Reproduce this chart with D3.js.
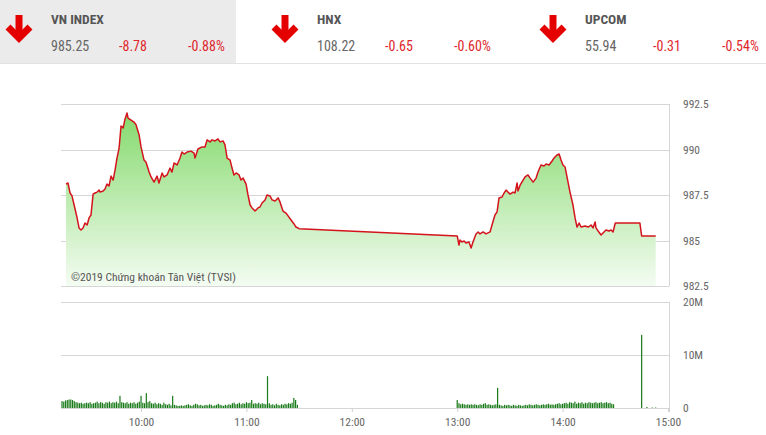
<!DOCTYPE html>
<html><head><meta charset="utf-8">
<script src="https://cdn.jsdelivr.net/npm/d3@7/dist/d3.min.js"></script>
<style>
html,body{margin:0;padding:0;background:#fff;}
svg{display:block;}
.nar{font-family:"Roboto Condensed","Liberation Sans Narrow","DejaVu Sans Condensed",Roboto,sans-serif;}
</style></head>
<body><svg id="c" width="766" height="435"></svg>
<script>
// ---------- DATA ----------
const indexNames  = ["VN INDEX", "HNX", "UPCOM"];
const indexValues = ["985.25", "108.22", "55.94"];
const indexChange = ["-8.78", "-0.65", "-0.31"];
const indexPct    = ["-0.88%", "-0.60%", "-0.54%"];

const priceTicks  = [982.5, 985, 987.5, 990, 992.5];
const volumeTicks = [0, 10, 20];           // millions
const timeTicks   = ["10:00", "11:00", "12:00", "13:00", "14:00", "15:00"];

const priceTimes = [
"09:17:18","09:18:24","09:19:36","09:20:42","09:21:54","09:23:36","09:24:42","09:25:48","09:27:00","09:28:06",
"09:29:18","09:30:24","09:31:30","09:32:42","09:33:48","09:35:00","09:36:06","09:36:42","09:38:24","09:39:30",
"09:40:36","09:41:48","09:42:54","09:44:06","09:45:12","09:46:18","09:47:30","09:48:36","09:49:48","09:50:54",
"09:52:00","09:52:36","09:54:18","09:56:00","09:57:12","09:58:54","10:00:00","10:01:42","10:02:48","10:04:36",
"10:05:42","10:07:24","10:09:06","10:10:12","10:12:00","10:13:06","10:14:48","10:16:30","10:17:36","10:18:48",
"10:20:30","10:22:12","10:23:18","10:24:30","10:26:12","10:28:30","10:30:12","10:30:42","10:32:24","10:34:42",
"10:36:24","10:37:36","10:39:18","10:40:24","10:42:06","10:43:48","10:45:00","10:46:42","10:47:48","10:49:00",
"10:50:42","10:51:48","10:52:54","10:54:06","10:55:48","10:56:54","10:58:06","10:59:48","11:00:54","11:02:06",
"11:03:12","11:04:54","11:06:36","11:07:42","11:08:54","11:10:36","11:11:42","11:13:24","11:14:36","11:16:18",
"11:18:00","11:19:06","11:20:48","11:22:30","11:23:42","11:25:24","11:27:06","11:28:12","11:30:00",
"13:00:00","13:01:00","13:01:36","13:02:42","13:03:54","13:05:00","13:06:42","13:07:54","13:09:00","13:10:42",
"13:11:54","13:13:00","13:14:42","13:16:24","13:18:42","13:19:48","13:21:30","13:22:42","13:23:48","13:25:30",
"13:26:42","13:27:48","13:28:54","13:30:06","13:31:48","13:32:54","13:34:06","13:34:36","13:35:48","13:37:30",
"13:38:36","13:40:18","13:41:30","13:43:12","13:44:54","13:46:00","13:47:42","13:49:24","13:50:36","13:52:18",
"13:54:00","13:55:06","13:56:48","13:58:00","13:59:06","14:00:12","14:01:24","14:02:30","14:04:12","14:05:54",
"14:07:06","14:08:12","14:09:24","14:10:30","14:12:48","14:14:30","14:16:12","14:17:18","14:18:30","14:19:00",
"14:20:12","14:21:54","14:23:00","14:24:42","14:26:24","14:27:36","14:28:42","14:30:00","14:44:00","14:45:00",
"14:53:00"
];
const priceValues = [
988.10,988.16,987.61,987.45,986.95,986.24,985.69,985.58,985.69,985.96,
985.85,986.24,986.40,987.55,987.61,987.66,987.77,987.66,987.72,987.83,
988.10,988.00,988.54,988.32,988.87,989.53,990.08,991.29,991.18,991.68,
992.01,991.73,991.62,991.51,991.35,990.80,990.14,989.42,989.31,988.76,
988.49,988.21,988.54,988.16,988.71,988.49,988.60,988.98,988.76,989.26,
989.15,989.53,989.86,989.75,989.86,989.91,989.80,989.53,990.03,990.14,
990.14,990.53,990.42,990.53,990.47,990.58,990.42,990.47,990.25,989.53,
989.42,988.98,988.60,988.71,988.60,988.32,988.43,988.10,987.50,986.95,
986.79,986.62,986.79,986.84,987.06,987.23,987.50,987.45,987.23,987.17,
987.34,987.12,986.62,986.51,986.35,986.13,985.91,985.74,985.65,
985.25,984.75,985.03,984.92,984.97,984.86,984.92,984.59,984.92,985.36,
985.47,985.36,985.47,985.36,985.47,985.85,986.40,986.57,987.34,987.39,
987.61,987.77,987.66,987.55,987.66,987.61,988.16,987.72,988.04,988.32,
988.49,988.60,988.43,988.21,988.43,988.76,989.15,989.09,989.20,989.15,
989.37,989.53,989.70,989.75,989.42,989.15,989.04,988.49,987.66,986.95,
986.24,985.74,985.96,985.74,985.80,985.74,985.85,985.69,986.02,985.69,
985.52,985.30,985.41,985.58,985.52,985.58,985.47,985.96,985.96,985.25,
985.25
];

// volume per minute (millions of shares)
const morningStart = "09:15";
const volMorning = [
1.3,1.2,1.4,1.5,1.6,1.6,1.5,1.3,1.1,1.0,
0.9,1.0,0.8,0.9,1.0,0.9,1.1,0.8,0.9,1.0,
1.2,0.9,1.1,1.0,0.8,1.1,1.0,1.2,0.9,1.1,
1.0,1.2,0.9,2.3,1.1,1.0,0.9,1.1,0.8,1.0,
0.9,1.1,0.8,1.0,1.2,2.3,1.0,0.9,2.8,1.1,
1.3,0.9,0.8,1.0,0.7,0.9,0.8,0.6,1.0,0.7,
0.6,0.8,0.5,2.3,0.6,0.5,0.4,0.4,0.5,0.4,
0.5,0.6,0.7,0.5,0.4,0.6,0.8,0.7,0.5,0.6,
0.4,0.5,0.6,0.5,0.7,0.6,0.4,0.5,0.6,0.8,
0.6,0.5,0.4,0.6,0.5,0.7,0.6,0.9,1.0,0.7,
0.8,1.0,0.7,0.9,0.8,1.1,0.9,1.0,1.5,0.8,
0.9,0.8,1.0,0.7,0.9,0.8,0.7,6.0,0.9,0.6,
0.7,0.5,0.8,0.6,0.5,0.7,0.6,0.8,0.7,0.9,
0.8,1.0,1.9,1.5,0.6
];
const afternoonStart = "13:00";
const volAfternoon = [
1.5,0.9,0.7,0.8,0.7,0.6,0.7,0.6,0.7,0.6,
0.7,0.6,0.5,0.7,0.6,0.8,0.9,0.6,0.7,0.6,
0.5,0.6,0.7,3.8,0.6,0.5,0.4,0.6,0.5,0.6,
0.5,0.4,0.6,0.5,0.4,0.6,0.5,0.4,0.5,0.6,
0.5,0.7,0.6,0.5,0.6,0.7,0.6,0.5,0.6,0.7,
0.6,0.7,0.8,0.6,0.7,0.6,0.7,0.8,0.9,0.7,
0.8,0.9,1.0,0.8,1.1,1.0,0.9,1.2,0.8,1.0,
0.9,1.1,0.8,1.0,0.9,1.1,1.0,0.9,1.0,1.1,
0.9,1.0,1.1,0.9,1.0,1.1,0.9,1.0,0.8,0.7
];
const closeTimes  = ["14:45", "14:48", "14:51", "14:53"];
const closeVolume = [13.8, 0.2, 0.1, 0.1];

// ---------- HELPERS ----------
const toMin = s => { const p = s.split(":").map(Number); return p[0]*60 + p[1] + (p[2]||0)/60; };
const price = priceTimes.map((t,i) => ({t: toMin(t), v: priceValues[i]}));
const vols = [];
volMorning.forEach((v,i) => vols.push({t: toMin(morningStart)+i, v}));
volAfternoon.forEach((v,i) => vols.push({t: toMin(afternoonStart)+i, v}));
closeTimes.forEach((t,i) => vols.push({t: toMin(t), v: closeVolume[i]}));

// ---------- LAYOUT ----------
const svg = d3.select("#c");
const L = 61, R = 669;
const x  = d3.scaleLinear().domain([toMin("09:15"), toMin("15:00")]).range([62, 668]);
const y  = d3.scaleLinear().domain([982.5, 992.5]).range([286, 104]);
const yv = d3.scaleLinear().domain([0, 20]).range([408, 302]);

const FONT = '"Roboto Condensed","Liberation Sans Narrow","DejaVu Sans Condensed",Roboto,sans-serif';

// header
svg.append("rect").attr("x",0).attr("y",0).attr("width",236).attr("height",63).attr("fill","#ebebeb");
svg.append("line").attr("x1",0).attr("x2",766).attr("y1",63.5).attr("y2",63.5).attr("stroke","#e2e2e2");
const hx = [0, 266, 534];
indexNames.forEach((n,i) => {
  const g = svg.append("g").attr("transform",`translate(${hx[i]},0)`);
  const cx = 19;
  g.append("path").attr("d",`M${cx},15 V38`).attr("stroke","#e50000").attr("stroke-width",7).attr("fill","none");
  g.append("path").attr("d",`M${cx-11},27 L${cx},38 L${cx+11},27`).attr("stroke","#e50000").attr("stroke-width",7)
    .attr("fill","none").attr("stroke-linejoin","miter");
  g.append("text").attr("x",51).attr("y",24).attr("font-family",FONT).attr("font-weight","bold")
    .attr("font-size",13.5).attr("fill","#555").text(n);
  g.append("text").attr("x",51).attr("y",51).attr("font-family",FONT).attr("font-size",14)
    .attr("fill","#666").text(indexValues[i]);
  g.append("text").attr("x",119).attr("y",51).attr("font-family",FONT).attr("font-size",14)
    .attr("fill","#e0262b").text(indexChange[i]);
  g.append("text").attr("x",188).attr("y",51).attr("font-family",FONT).attr("font-size",14)
    .attr("fill","#e0262b").text(indexPct[i]);
});

// gradient
const defs = svg.append("defs");
const grad = defs.append("linearGradient").attr("id","gf").attr("gradientUnits","userSpaceOnUse")
  .attr("x1",0).attr("x2",0).attr("y1",y(992.5)).attr("y2",y(982.5));
grad.append("stop").attr("offset","0%").attr("stop-color","#7fd866");
grad.append("stop").attr("offset","100%").attr("stop-color","#f4fcf2");

// price grid
svg.append("g").selectAll("line").data(priceTicks).join("line")
  .attr("x1",L).attr("x2",R).attr("y1",d=>Math.round(y(d))+0.5).attr("y2",d=>Math.round(y(d))+0.5)
  .attr("stroke","#d6d6d6");
svg.append("line").attr("x1",R+0.5).attr("x2",R+0.5).attr("y1",y(992.5)).attr("y2",y(982.5)).attr("stroke","#d6d6d6");

// area + line
const area = d3.area().x(d=>x(d.t)).y0(y(982.5)).y1(d=>y(d.v));
const line = d3.line().x(d=>x(d.t)).y(d=>y(d.v));
svg.append("path").datum(price).attr("d",area).attr("fill","url(#gf)");
svg.append("path").datum(price).attr("d",line).attr("fill","none").attr("stroke","#d4141c").attr("stroke-width",1.5)
  .attr("stroke-linejoin","round");

// price axis labels
const yAxis = d3.axisRight(y).tickValues(priceTicks).tickSize(0).tickPadding(14)
  .tickFormat(d => String(d));
const ya = svg.append("g").attr("transform",`translate(${R},0)`).call(yAxis);
ya.select(".domain").remove();
ya.selectAll("text").attr("font-family",FONT).attr("font-size",11.5).attr("fill","#666");

// copyright
svg.append("text").attr("x",71).attr("y",281).attr("font-family",FONT).attr("font-size",11.5)
  .attr("fill","#555").text("©2019 Chứng khoán Tân Việt (TVSI)");

// volume grid
svg.append("g").selectAll("line").data(volumeTicks).join("line")
  .attr("x1",L).attr("x2",R).attr("y1",d=>Math.round(yv(d))+0.5).attr("y2",d=>Math.round(yv(d))+0.5)
  .attr("stroke","#d6d6d6");
svg.append("line").attr("x1",R+0.5).attr("x2",R+0.5).attr("y1",yv(20)).attr("y2",yv(0)+4).attr("stroke","#d6d6d6");

// volume bars
svg.append("g").selectAll("rect").data(vols).join("rect")
  .attr("x",d=>x(d.t)-0.6).attr("width",1.2)
  .attr("y",d=>yv(d.v)).attr("height",d=>yv(0)-yv(d.v))
  .attr("fill","#187a18");

// volume axis labels
const yvAxis = d3.axisRight(yv).tickValues(volumeTicks).tickSize(0).tickPadding(14)
  .tickFormat(d => d===0 ? "0" : d + "M");
const yva = svg.append("g").attr("transform",`translate(${R},0)`).call(yvAxis);
yva.select(".domain").remove();
yva.selectAll("text").attr("font-family",FONT).attr("font-size",11.5).attr("fill","#666");

// time axis
const xAxis = d3.axisBottom(x).tickValues(timeTicks.map(toMin)).tickSize(4).tickPadding(6)
  .tickFormat((d,i) => timeTicks[i]);
const xa = svg.append("g").attr("transform",`translate(0,${yv(0)})`).call(xAxis);
xa.select(".domain").remove();
xa.selectAll("line").attr("stroke","#d0d0d0");
xa.selectAll("text").attr("font-family",FONT).attr("font-size",11.5).attr("fill","#666");
</script></body></html>
